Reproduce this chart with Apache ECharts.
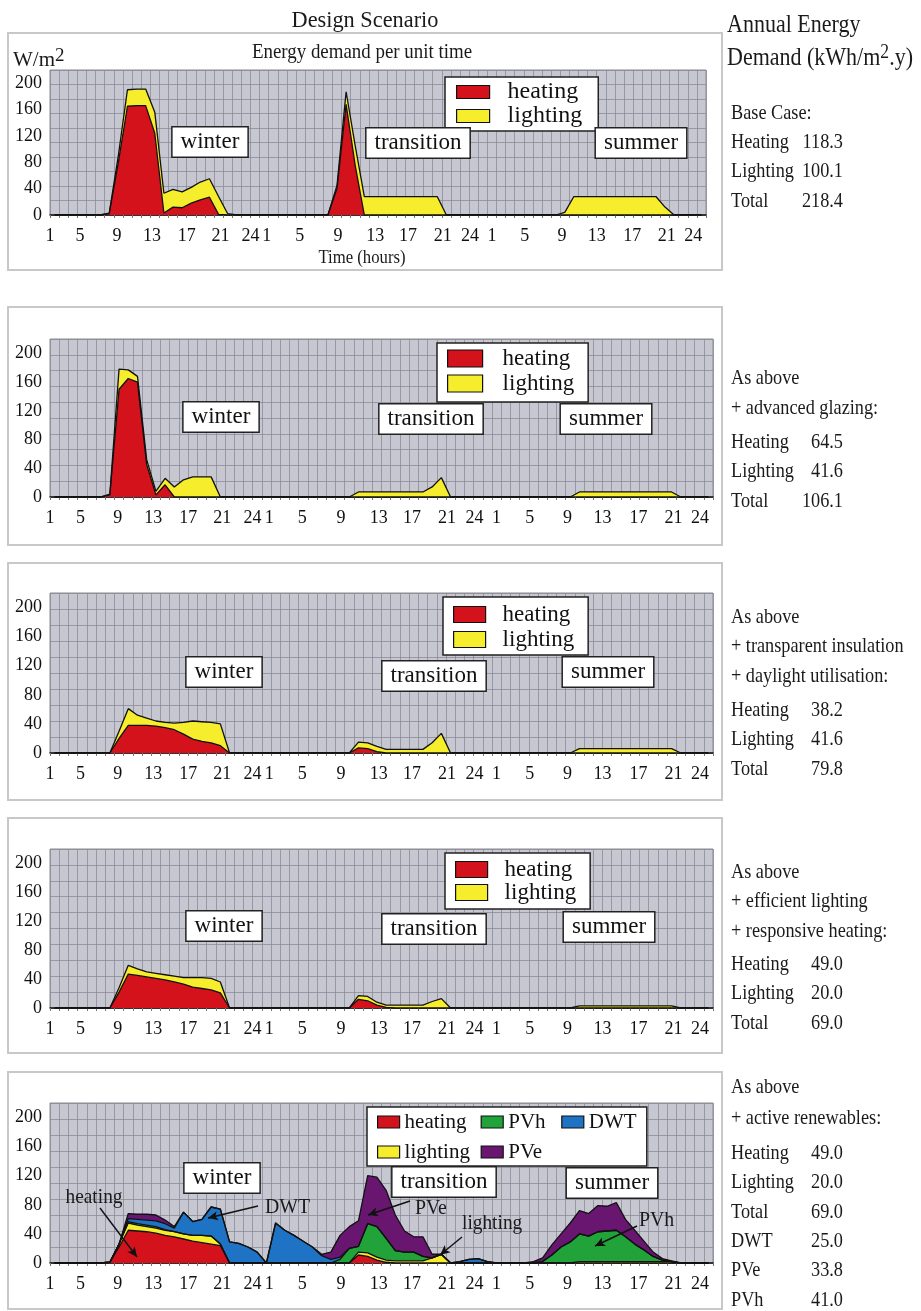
<!DOCTYPE html>
<html><head><meta charset="utf-8">
<script src="https://cdn.jsdelivr.net/npm/echarts@6/dist/echarts.min.js"></script>
<style>html,body{margin:0;padding:0;background:#fff}#c{width:921px;height:1311px}</style>
</head><body><div id="c"></div>
<script>
// ---------- data ----------
const hours = [1,2,3,4,5,6,7,8,9,10,11,12,13,14,15,16,17,18,19,20,21,22,23,24];
const seasons = ['winter','transition','summer'];
// tick labels and their positions along the 72-hour axis (in hours from the left edge)
const xTickPos = [0,3.3,7.35,11.2,15,18.7,22, 23.8,27.4,31.6,35.7,39.3,43.1,46.1, 48.5,52.1,56.2,60,63.9,67.7,70.6];
const xTickLabel = ['1','5','9','13','17','21','24','1','5','9','13','17','21','24','1','5','9','13','17','21','24'];
const yTickLabels = [0,40,80,120,160,200];

const p1Heating = [
 0,0,0,0,0,0,2,80,165,166,166,124,3,12,11,18,23,27,1,0,0,0,0,0,
 0,0,0,0,0,0,0,40,168,75,0,0,0,0,0,0,0,0,0,0,0,0,0,0,
 0,0,0,0,0,0,0,0,0,0,0,0,0,0,0,0,0,0,0,0,0,0,0,0];
const p1Lighting = [
 0,0,0,0,0,0,1,10,25,25,25,32,30,27,24,24,27,28,27,2,0,0,0,0,
 0,0,0,0,0,0,0,5,19,30,28,28,28,28,28,28,28,28,28,0,0,0,0,0,
 0,0,0,0,0,0,0,0,4,28,28,28,28,28,28,28,28,28,28,12,0,0,0,0];

const p2Heating = [
 0,0,0,0,0,0,3,150,165,160,45,3,17,0,0,0,0,0,0,0,0,0,0,0,
 0,0,0,0,0,0,0,0,0,0,0,0,0,0,0,0,0,0,0,0,0,0,0,0,
 0,0,0,0,0,0,0,0,0,0,0,0,0,0,0,0,0,0,0,0,0,0,0,0];
const p2Lighting = [
 0,0,0,0,0,0,1,28,12,8,7,5,9,14,24,28,28,28,0,0,0,0,0,0,
 0,0,0,0,0,0,0,0,0,7,7,7,7,7,7,7,7,14,27,0,0,0,0,0,
 0,0,0,0,0,0,0,0,0,7,7,7,7,7,7,7,7,7,7,7,0,0,0,0];

const p3Heating = [
 0,0,0,0,0,0,0,20,38,38,38,37,35,32,26,19,16,14,10,0,0,0,0,0,
 0,0,0,0,0,0,0,0,0,7,6,2,0,0,0,0,0,0,0,0,0,0,0,0,
 0,0,0,0,0,0,0,0,0,0,0,0,0,0,0,0,0,0,0,0,0,0,0,0];
const p3Lighting = [
 0,0,0,0,0,0,0,10,23,14,10,7,7,9,16,25,27,28,30,0,0,0,0,0,
 0,0,0,0,0,0,0,0,0,8,8,7,5,5,5,5,5,14,27,0,0,0,0,0,
 0,0,0,0,0,0,0,0,0,6,6,6,6,6,6,6,6,6,6,6,0,0,0,0];

const p4Heating = [
 0,0,0,0,0,0,0,22,47,45,43,41,39,36,33,29,27,25,21,0,0,0,0,0,
 0,0,0,0,0,0,0,0,0,12,10,4,1,0,0,0,0,0,0,0,0,0,0,0,
 0,0,0,0,0,0,0,0,0,0,0,0,0,0,0,0,0,0,0,0,0,0,0,0];
const p4Lighting = [
 0,0,0,0,0,0,0,6,12,9,7,7,7,8,9,13,15,16,15,0,0,0,0,0,
 0,0,0,0,0,0,0,0,0,5,6,4,3,4,4,4,4,9,13,0,0,0,0,0,
 0,0,0,0,0,0,0,0,0,3,3,3,3,3,3,3,3,3,3,3,0,0,0,0];

const p5Heating = [
 0,0,0,0,0,0,1,22,45,44,43,41,38,36,33,30,28,26,24,0,0,0,0,0,
 0,0,0,0,0,0,0,0,0,11,9,4,1,0,0,0,0,0,0,0,0,0,0,0,
 0,0,0,0,0,0,0,0,0,0,0,0,0,0,0,0,0,0,0,0,0,0,0,0];
const p5Lighting = [
 0,0,0,0,0,0,0,4,10,8,7,7,7,7,7,8,10,11,2,0,0,0,0,0,
 0,0,0,0,0,0,0,0,0,4,5,4,3,3,3,3,3,7,12,0,0,0,0,0,
 0,0,0,0,0,0,0,0,0,2,2,2,2,2,2,2,2,2,2,2,0,0,0,0];
const p5PVh = [
 0,0,0,0,0,0,0,0,2,2,2,2,1,0,0,0,0,0,0,0,0,0,0,0,
 0,0,0,0,0,0,0,5,20,8,40,42,30,14,12,12,6,0,0,0,0,0,0,0,
 0,0,0,0,0,2,11,22,29,38,35,41,42,43,34,24,16,7,2,0,0,0,0,0];
const p5DWT = [
 0,0,0,0,0,0,0,0,4,6,7,8,8,5,30,19,22,40,48,29,27,22,15,0,
 55,45,38,30,22,10,5,3,0,0,0,0,0,0,0,0,0,0,0,0,2,5,6,2,
 0,0,0,0,0,0,0,0,0,0,0,0,0,0,0,0,0,0,0,0,0,0,0,0];
const p5PVe = [
 0,0,0,0,0,0,0,0,7,7,8,8,5,2,0,0,0,0,0,0,0,0,0,0,
 0,0,0,0,0,2,10,30,30,35,66,68,66,49,29,21,27,5,0,0,0,0,0,0,
 0,0,0,0,2,5,14,18,26,32,31,36,34,38,24,19,12,6,2,1,0,0,0,0];

const annualHead = [['Base Case:'],['As above','+ advanced glazing:'],['As above','+ transparent insulation','+ daylight utilisation:'],['As above','+ efficient lighting','+ responsive heating:'],['As above','+ active renewables:']];
const annualNames = [['Heating','Lighting','Total'],['Heating','Lighting','Total'],['Heating','Lighting','Total'],['Heating','Lighting','Total'],['Heating','Lighting','Total','DWT','PVe','PVh']];
const annualValues = [[118.3,100.1,218.4],[64.5,41.6,106.1],[38.2,41.6,79.8],[49.0,20.0,69.0],[49.0,20.0,69.0,25.0,33.8,41.0]];

// ---------- layout & style ----------
const SERIF = "'Liberation Serif','Times New Roman',serif";
const colors = {heating:'#d3121c', lighting:'#f6ee2c', PVh:'#22a33a', DWT:'#1f73c4', PVe:'#681670'};
const panels = [
  {top:70,  height:145, width:656, frame:[8,33,714,237],  headY:[113], valY0:142, seasonBox:[[210,142],[418,143],[641,143]]},
  {top:339, height:158, width:663, frame:[8,307,714,238], headY:[378,408], valY0:442, seasonBox:[[221,417],[431,419],[606,419]]},
  {top:593, height:160, width:663, frame:[8,563,714,237], headY:[617,646,676], valY0:710, seasonBox:[[224,672],[434,676],[608,672]]},
  {top:849, height:159, width:663, frame:[8,818,714,235], headY:[872,901,931], valY0:964, seasonBox:[[224,926],[434,929],[609,927]]},
  {top:1103,height:160, width:663, frame:[8,1072,714,237],headY:[1087,1118], valY0:1153, seasonBox:[[222,1178],[444,1182],[612,1183]]}
];
const panelData = [
  [['heating',p1Heating],['lighting',p1Lighting]],
  [['heating',p2Heating],['lighting',p2Lighting]],
  [['heating',p3Heating],['lighting',p3Lighting]],
  [['heating',p4Heating],['lighting',p4Lighting]],
  [['heating',p5Heating],['lighting',p5Lighting],['PVh',p5PVh],['DWT',p5DWT],['PVe',p5PVe]]
];
const legendLayout = [
  {left:445, top:77,  padding:[3,16,3,11], w:33, h:13, fs:24, lh:22, tp:13},
  {left:437, top:343, padding:[3,14,6,10], w:35, h:17, fs:23, lh:25, tp:15},
  {left:443, top:597, padding:[5,14,3,10], w:32, h:16, fs:23, lh:25, tp:12},
  {left:445, top:853, padding:[5,14,5,10], w:32, h:16, fs:23, lh:23, tp:12}
];

const categories = seasons.flatMap(s => hours.map(h => s + ' ' + h));
const tickMap = {};
xTickPos.forEach((v, k) => { tickMap[String(v)] = xTickLabel[k]; });

const grid = [], xAxis = [], yAxis = [], series = [], legend = [], graphics = [];

function rt(x, y, text, align) {
  return {type:'text', silent:true, z:50, x, y, scaleX:0.83,
    style:{text, fontFamily:SERIF, fontSize:22, fill:'#1a1a1a', align, verticalAlign:'middle'}};
}
function tx(x, y, text, size, sx, align) {
  return {type:'text', silent:true, z:60, x, y, scaleX:sx,
    style:{text, fontFamily:SERIF, fontSize:size, fill:'#1a1a1a', align:align||'center', verticalAlign:'middle'}};
}

panels.forEach((p, i) => {
  grid.push({left:50, top:p.top, width:p.width, height:p.height, show:true, backgroundColor:'#c6c7d1', borderColor:'#8a8a8a', borderWidth:1, containLabel:false, outerBoundsMode:'none'});
  // data axis (hour columns)
  xAxis.push({type:'category', gridIndex:i, position:'bottom', data:categories, boundaryGap:true,
    axisLine:{show:true, lineStyle:{color:'#111', width:1.5}},
    axisTick:{show:true, interval:0, length:3, lineStyle:{color:'#777'}},
    axisLabel:{show:false},
    splitLine:{show:true, interval:0, lineStyle:{color:'#8c8c98', width:0.8}}
  });
  // label axis (hour-of-day labels)
  xAxis.push({type:'value', gridIndex:i, position:'bottom', min:0, max:72,
    axisLine:{show:false}, axisTick:{show:false}, splitLine:{show:false},
    axisLabel:{customValues:xTickPos, formatter:(v)=> tickMap[String(v)] || '', fontFamily:SERIF, fontSize:18, color:'#111', margin:12, showMinLabel:true, showMaxLabel:true}
  });
  yAxis.push({type:'value', gridIndex:i, min:0, max:220, interval:22,
    axisLine:{show:false}, axisTick:{show:false}, axisLabel:{show:false},
    splitLine:{show:true, lineStyle:{color:'#8c8c98', width:0.8}}});
  yAxis.push({type:'value', gridIndex:i, min:0, max:220, interval:40, position:'left',
    axisLine:{show:false}, axisTick:{show:false}, splitLine:{show:false},
    axisLabel:{margin:8, fontFamily:SERIF, fontSize:18, color:'#111',
      formatter:(v)=> yTickLabels.indexOf(v) >= 0 ? String(v) : ''}});
  panelData[i].forEach(([name, data]) => {
    series.push({type:'line', name, xAxisIndex:2*i, yAxisIndex:2*i, data, stack:'s'+i,
      symbol:'none', smooth:false, silent:true, emphasis:{disabled:true},
      lineStyle:{color:'#111', width:1.3}, itemStyle:{color:colors[name]},
      areaStyle:{color:colors[name], opacity:1}, z:3});
  });
  graphics.push({type:'rect', silent:true, z:0, shape:{x:p.frame[0], y:p.frame[1], width:p.frame[2], height:p.frame[3]}, style:{fill:'none', stroke:'#c8c8c8', lineWidth:2}});
  seasons.forEach((s, k) => {
    graphics.push({type:'text', silent:true, z:50, x:p.seasonBox[k][0], y:p.seasonBox[k][1],
      style:{text:s, fontFamily:SERIF, fontSize:23, fill:'#111', align:'center', verticalAlign:'middle',
        backgroundColor:'#fff', borderColor:'#222', borderWidth:1.5, padding:[3,8,2,8], lineHeight:24}});
  });
  annualHead[i].forEach((t, k) => graphics.push(rt(731, p.headY[k], t, 'left')));
  annualNames[i].forEach((n, k) => {
    const y = p.valY0 + k * 29.4;
    graphics.push(rt(731, y, n, 'left'));
    graphics.push(rt(843, y, annualValues[i][k].toFixed(1), 'right'));
  });
});

legendLayout.forEach((L) => {
  legend.push({show:true, orient:'vertical', left:L.left, top:L.top, padding:L.padding, itemGap:0,
    itemWidth:L.w, itemHeight:L.h, icon:'rect', selectedMode:false,
    backgroundColor:'#fff', borderColor:'#222', borderWidth:1.5,
    data:['heating','lighting'].map(n => ({name:n, itemStyle:{color:colors[n], borderColor:'#111', borderWidth:1.2}})),
    textStyle:{fontFamily:SERIF, fontSize:L.fs, lineHeight:L.lh, color:'#111', padding:[0,0,0,L.tp]}});
});
const colOf = {heating:'c1', lighting:'c1', PVh:'c2', PVe:'c2', DWT:'c3'};
legend.push({show:true, orient:'horizontal', left:367, top:1107, width:260, padding:[4,10,3,10], itemGap:8,
  itemWidth:22, itemHeight:12, icon:'rect', selectedMode:false,
  backgroundColor:'#fff', borderColor:'#222', borderWidth:1.5,
  data:['heating','PVh','DWT','lighting','PVe'].map(n => ({name:n, itemStyle:{color:colors[n], borderColor:'#111', borderWidth:1.2}})),
  formatter:(n)=> '{' + colOf[n] + '|' + n + '}',
  textStyle:{fontFamily:SERIF, fontSize:21, lineHeight:22, color:'#111',
    rich:{c1:{width:68, fontFamily:SERIF, fontSize:21, color:'#111'},
          c2:{width:45, fontFamily:SERIF, fontSize:21, color:'#111'},
          c3:{width:48, fontFamily:SERIF, fontSize:21, color:'#111'}}}});

series[series.length-1].markLine = {silent:true, symbol:['none','arrow'], symbolSize:[7,10], animation:false,
  lineStyle:{color:'#111', width:1.4, type:'solid'}, label:{show:false}, emphasis:{disabled:true},
  data:[
    [{x:100,y:1208},{x:137,y:1257}],
    [{x:258,y:1206},{x:208,y:1218}],
    [{x:410,y:1201},{x:368,y:1215}],
    [{x:462,y:1237},{x:440,y:1255}],
    [{x:637,y:1226},{x:595,y:1246}]
  ]};

graphics.push(tx(365, 21, 'Design Scenario', 24, 0.93));
graphics.push(tx(362, 52, 'Energy demand per unit time', 21, 0.9));
graphics.push(tx(362, 258, 'Time (hours)', 19, 0.88));
graphics.push({type:'text', silent:true, z:60, x:13, y:60, style:{text:'{a|W/m}{s|2}', fontFamily:SERIF, fill:'#1a1a1a', align:'left', verticalAlign:'middle',
  rich:{a:{fontFamily:SERIF, fontSize:21, fill:'#1a1a1a', lineHeight:26}, s:{fontFamily:SERIF, fontSize:19, fill:'#1a1a1a', verticalAlign:'top', lineHeight:16}}}});
graphics.push(tx(727, 25, 'Annual Energy', 25, 0.88, 'left'));
graphics.push({type:'text', silent:true, z:60, x:727, y:58, scaleX:0.88, style:{text:'{a|Demand (kWh/m}{s|2}{a|.y)}', fontFamily:SERIF, fill:'#1a1a1a', align:'left', verticalAlign:'middle',
  rich:{a:{fontFamily:SERIF, fontSize:25, fill:'#1a1a1a', lineHeight:30}, s:{fontFamily:SERIF, fontSize:20, fill:'#1a1a1a', verticalAlign:'top', lineHeight:16}}}});
graphics.push(tx(94, 1197, 'heating', 22, 0.88));
graphics.push(tx(265, 1207, 'DWT', 22, 0.9, 'left'));
graphics.push(tx(415, 1208, 'PVe', 22, 0.9, 'left'));
graphics.push(tx(462, 1223, 'lighting', 22, 0.88, 'left'));
graphics.push(tx(639, 1220, 'PVh', 22, 0.9, 'left'));

const chart = echarts.init(document.getElementById('c'), null, {renderer:'canvas'});
chart.setOption({animation:false, backgroundColor:'#fff', grid, xAxis, yAxis, series, legend, graphic:{elements:graphics}});
</script></body></html>
